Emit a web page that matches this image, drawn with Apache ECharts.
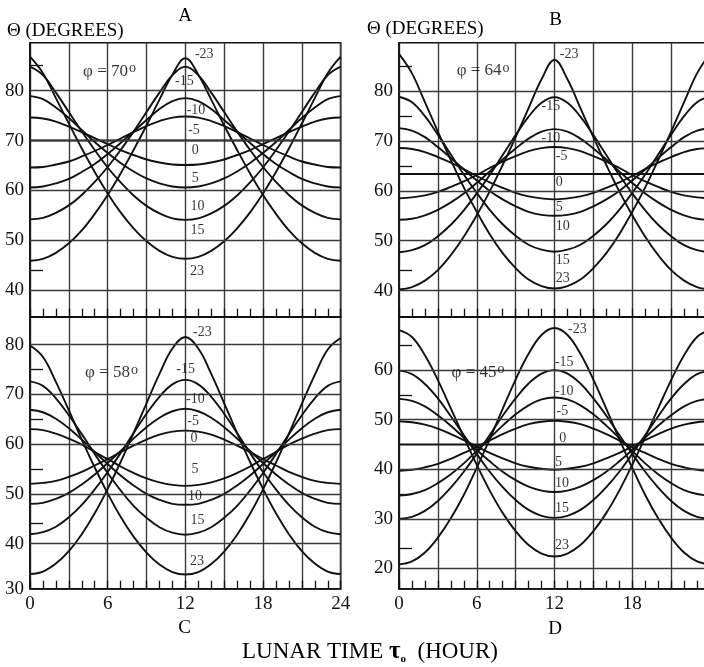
<!DOCTYPE html>
<html>
<head>
<meta charset="utf-8">
<script src="https://cdn.jsdelivr.net/npm/echarts@6/dist/echarts.min.js"></script>
<style>html,body{margin:0;padding:0;background:#fff}#c{width:704px;height:667px}</style>
</head>
<body>
<div id="c"></div>
<script>
// ---------------- DATA ----------------
const hours = [0,1,2,3,4,5,6,7,8,9,10,11,12,13,14,15,16,17,18,19,20,21,22,23,24];

// Panel A  (phi = 70)
const A_23  = [86.8,83.5,78.5,73.4,68.4,63.7,59.4,55.6,52.4,49.8,47.9,46.7,46.3,46.7,47.9,49.8,52.4,55.6,59.4,63.7,68.4,73.4,78.5,83.5,86.8];
const A_15  = [84.8,83.1,79.6,75.7,71.8,68.1,64.6,61.6,59.0,56.9,55.4,54.4,54.1,54.4,55.4,56.9,59.0,61.6,64.6,68.1,71.8,75.7,79.6,83.1,84.8];
const A_10  = [78.9,78.3,76.6,74.5,72.1,69.7,67.5,65.5,63.8,62.4,61.4,60.8,60.6,60.8,61.4,62.4,63.8,65.5,67.5,69.7,72.1,74.5,76.6,78.3,78.9];
const A_5   = [74.6,74.4,73.8,72.8,71.7,70.5,69.3,68.1,67.1,66.2,65.6,65.2,65.1,65.2,65.6,66.2,67.1,68.1,69.3,70.5,71.7,72.8,73.8,74.4,74.6];
const A_0   = [70,70,70,70,70,70,70,70,70,70,70,70,70,70,70,70,70,70,70,70,70,70,70,70,70];
const A_m5  = [64.6,64.7,65.2,65.8,66.8,67.9,69.1,70.4,71.7,72.9,73.9,74.6,74.8,74.6,73.9,72.9,71.7,70.4,69.1,67.9,66.8,65.8,65.2,64.7,64.6];
const A_m10 = [60.6,60.8,61.4,62.3,63.7,65.3,67.3,69.5,71.8,74.1,76.3,77.9,78.5,77.9,76.3,74.1,71.8,69.5,67.3,65.3,63.7,62.3,61.4,60.8,60.6];
const A_m15 = [54.2,54.5,55.5,57.0,59.1,61.7,64.7,68.1,71.8,75.7,79.6,83.1,84.8,83.1,79.6,75.7,71.8,68.1,64.7,61.7,59.1,57.0,55.5,54.5,54.2];
const A_m23 = [45.9,46.3,47.5,49.4,52.0,55.3,59.1,63.4,68.1,73.0,78.2,83.2,86.5,83.2,78.2,73.0,68.1,63.4,59.1,55.3,52.0,49.4,47.5,46.3,45.9];

// Panel B  (phi = 64)
const B_23  = [87.5,83.6,77.8,71.9,66.2,60.7,55.8,51.3,47.5,44.5,42.2,40.9,40.4,40.9,42.2,44.5,47.5,51.3,55.8,60.7,66.2,71.9,77.8,83.6,87.5];
const B_15  = [78.9,77.8,75.0,71.3,67.3,63.3,59.6,56.2,53.3,51.0,49.2,48.2,47.8,48.2,49.2,51.0,53.3,56.2,59.6,63.3,67.3,71.3,75.0,77.8,78.9];
const B_10  = [72.6,72.1,70.8,68.8,66.6,64.3,62.1,60.0,58.3,56.9,55.8,55.2,55.0,55.2,55.8,56.9,58.3,60.0,62.1,64.3,66.6,68.8,70.8,72.1,72.6];
const B_5   = [68.6,68.4,67.8,66.8,65.7,64.4,63.0,61.7,60.6,59.6,58.9,58.5,58.3,58.5,58.9,59.6,60.6,61.7,63.0,64.4,65.7,66.8,67.8,68.4,68.6];
const B_0   = [63.4,63.4,63.4,63.4,63.4,63.4,63.4,63.4,63.4,63.4,63.4,63.4,63.4,63.4,63.4,63.4,63.4,63.4,63.4,63.4,63.4,63.4,63.4,63.4,63.4];
const B_m5  = [58.5,58.7,59.1,59.8,60.8,61.9,63.2,64.6,65.9,67.0,68.0,68.6,68.8,68.6,68.0,67.0,65.9,64.6,63.2,61.9,60.8,59.8,59.1,58.7,58.5];
const B_m10 = [54.2,54.4,55.1,56.2,57.7,59.5,61.6,63.9,66.3,68.5,70.5,71.9,72.4,71.9,70.5,68.5,66.3,63.9,61.6,59.5,57.7,56.2,55.1,54.4,54.2];
const B_m15 = [47.7,48.1,49.1,50.9,53.2,56.1,59.5,63.2,67.2,71.2,74.9,77.7,78.8,77.7,74.9,71.2,67.2,63.2,59.5,56.1,53.2,50.9,49.1,48.1,47.7];
const B_m23 = [40.2,40.7,42.0,44.1,47.1,50.8,55.1,59.9,65.2,70.8,76.6,82.4,86.3,82.4,76.6,70.8,65.2,59.9,55.1,50.8,47.1,44.1,42.0,40.7,40.2];

// Panel C  (phi = 58)
const C_23  = [79.8,77.5,72.5,66.8,60.9,55.3,50.1,45.4,41.4,38.2,35.8,34.3,33.8,34.3,35.9,38.4,41.8,46.0,50.9,56.3,62.1,68.1,73.9,79.0,81.3];
const C_15  = [72.6,71.7,69.2,65.8,62.0,58.0,54.2,50.7,47.6,45.2,43.3,42.2,41.8,42.2,43.3,45.2,47.6,50.7,54.2,58.0,62.0,65.8,69.2,71.7,72.6];
const C_10  = [66.9,66.4,65.1,63.2,60.9,58.4,56.0,53.7,51.7,50.0,48.8,48.0,47.8,48.0,48.8,50.0,51.7,53.7,56.0,58.4,60.9,63.2,65.1,66.4,66.9];
const C_5   = [63.0,62.8,62.1,61.1,59.9,58.4,57.0,55.5,54.2,53.1,52.3,51.8,51.6,51.8,52.3,53.1,54.2,55.5,57.0,58.4,59.9,61.1,62.1,62.8,63.0];
const C_m5  = [52.0,52.2,52.6,53.4,54.4,55.7,57.0,58.4,59.7,60.9,61.9,62.5,62.7,62.5,61.9,60.9,59.7,58.4,57.0,55.7,54.4,53.4,52.6,52.2,52.0];
const C_m10 = [48.0,48.2,49.0,50.2,51.9,53.9,56.2,58.6,61.1,63.4,65.3,66.6,67.1,66.6,65.3,63.4,61.1,58.6,56.2,53.9,51.9,50.2,49.0,48.2,48.0];
const C_m15 = [41.9,42.3,43.4,45.3,47.8,50.9,54.4,58.2,62.2,66.1,69.5,72.0,72.9,72.0,69.5,66.1,62.2,58.2,54.4,50.9,47.8,45.3,43.4,42.3,41.9];
const C_m23 = [33.9,34.4,36.0,38.5,41.9,46.1,51.0,56.4,62.2,68.2,74.1,79.2,81.5,79.2,74.1,68.2,62.2,56.4,51.0,46.1,41.9,38.5,36.0,34.4,33.9];

// Panel D  (phi = 45)
const D_23  = [68.1,66.7,63.0,58.0,52.3,46.5,40.9,35.7,31.2,27.5,24.7,23.0,22.4,23.0,24.7,27.5,31.2,35.7,40.9,46.5,52.3,58.0,63.0,66.7,68.1];
const D_15  = [59.9,59.2,57.2,54.3,50.7,46.9,43.1,39.5,36.4,33.8,31.8,30.6,30.2,30.6,31.8,33.8,36.4,39.5,43.1,46.9,50.7,54.3,57.2,59.2,59.9];
const D_10  = [54.2,53.8,52.7,50.9,48.8,46.4,43.9,41.6,39.5,37.8,36.5,35.7,35.4,35.7,36.5,37.8,39.5,41.6,43.9,46.4,48.8,50.9,52.7,53.8,54.2];
const D_5   = [49.7,49.5,49.0,48.2,47.1,45.9,44.6,43.3,42.2,41.2,40.5,40.1,39.9,40.1,40.5,41.2,42.2,43.3,44.6,45.9,47.1,48.2,49.0,49.5,49.7];
const D_0   = [45,45,45,45,45,45,45,45,45,45,45,45,45,45,45,45,45,45,45,45,45,45,45,45,45];
const D_m5  = [39.7,39.9,40.4,41.1,42.1,43.3,44.5,45.8,47.1,48.2,49.1,49.6,49.8,49.6,49.1,48.2,47.1,45.8,44.5,43.3,42.1,41.1,40.4,39.9,39.7];
const D_m10 = [34.7,35.0,35.8,37.2,39.0,41.2,43.7,46.3,48.8,51.1,52.9,54.1,54.5,54.1,52.9,51.1,48.8,46.3,43.7,41.2,39.0,37.2,35.8,35.0,34.7];
const D_m15 = [30.0,30.4,31.6,33.6,36.3,39.5,43.1,46.9,50.8,54.3,57.3,59.3,60.0,59.3,57.3,54.3,50.8,46.9,43.1,39.5,36.3,33.6,31.6,30.4,30.0];
const D_m23 = [20.8,21.4,23.2,26.2,30.1,34.8,40.3,46.1,52.2,58.1,63.3,67.1,68.5,67.1,63.3,58.1,52.2,46.1,40.3,34.8,30.1,26.2,23.2,21.4,20.8];

// Axis ticks / labels
const xTickLabels = [0, 6, 12, 18, 24];
const A_yLabels = [40, 50, 60, 70, 80];
const B_yLabels = [40, 50, 60, 70, 80];
const C_yLabels = [30, 40, 50, 60, 70, 80];
const D_yLabels = [20, 30, 40, 50, 60];
const A_yMinor = [85, 44];
const B_yMinor = [85, 75, 65, 44];
const C_yMinor = [75, 65, 55, 44];
const D_yMinor = [65, 55, 35, 24];

// Curve labels (declination, degrees): [text, hour, value]
const A_curveLabels = [['-23',12.74,87.3],['-15',11.2,81.8],['-10',12.1,76.1],['-5',12.22,72.1],['0',12.5,68.1],['5',12.5,62.4],['10',12.4,56.9],['15',12.4,52.1],['23',12.36,43.7]];
const B_curveLabels = [['-23',12.41,87.4],['-15',11.0,76.9],['-10',11.0,70.6],['-5',12.1,66.9],['0',12.1,61.8],['5',12.1,56.8],['10',12.1,52.8],['15',12.1,46.1],['23',12.1,42.4]];
const C_curveLabels = [['-23',12.6,82.4],['-15',11.3,75.0],['-10',12.05,68.9],['-5',12.15,64.6],['0',12.4,61.2],['5',12.48,54.9],['10',12.2,49.6],['15',12.4,44.6],['23',12.35,36.4]];
const D_curveLabels = [['-23',13.05,68.2],['-15',12.03,61.5],['-10',12.03,55.7],['-5',12.16,51.6],['0',12.36,46.3],['5',12.03,41.5],['10',12.03,37.2],['15',12.03,32.1],['23',12.03,24.7]];

// Latitude labels: [latitude, hour, value]
const A_phi = [70, 4.1, 83.9];
const B_phi = [64, 4.45, 84.1];
const C_phi = [58, 4.25, 74.3];
const D_phi = [45, 4.06, 59.5];

// ---------------- LAYOUT ----------------
const FONT = '"Liberation Serif","Times New Roman",serif';
const INK = '#111';
const GRIDC = '#3a3a3a';

const panels = [
  { grid:{left:30,  top:42.7,  width:310.7, height:274},   yr:[34.7,89.6],  ylab:A_yLabels, ymin:A_yMinor, xlab:false,
    curves:[A_23,A_15,A_10,A_5,A_0,A_m5,A_m10,A_m15,A_m23], cl:A_curveLabels, phi:A_phi },
  { grid:{left:399, top:42.7,  width:311,   height:274},   yr:[34.75,89.75], ylab:B_yLabels, ymin:B_yMinor, xlab:false,
    curves:[B_23,B_15,B_10,B_5,B_0,B_m5,B_m10,B_m15,B_m23], cl:B_curveLabels, phi:B_phi },
  { grid:{left:30,  top:317.3, width:310.7, height:271.4}, yr:[30.95,85.47], ylab:C_yLabels, ymin:C_yMinor, xlab:true,
    curves:[C_23,C_15,C_10,C_5,C_m5,C_m10,C_m15,C_m23], cl:C_curveLabels, phi:C_phi },
  { grid:{left:399, top:317.3, width:311,   height:271.4}, yr:[15.9,70.67], ylab:D_yLabels, ymin:D_yMinor, xlab:true, hide24:true,
    curves:[D_23,D_15,D_10,D_5,D_0,D_m5,D_m10,D_m15,D_m23], cl:D_curveLabels, phi:D_phi }
];

const grid = [], xAxis = [], yAxis = [], series = [];
panels.forEach((p, i) => {
  grid.push(Object.assign({show:true, borderColor:INK, borderWidth:1.6, backgroundColor:'transparent',
    containLabel:false, outerBoundsMode:'none'}, p.grid));
  xAxis.push({
    type:'value', gridIndex:i, min:0, max:24, interval:3,
    axisLine:{show:true, lineStyle:{color:INK, width:1.6}},
    axisTick:{show:true, inside:true, length:8, lineStyle:{color:INK, width:1.3}},
    minorTick:{show:true, splitNumber:3, length:8, lineStyle:{color:INK, width:1.3}},
    splitLine:{show:true, lineStyle:{color:GRIDC, width:1.4}},
    axisLabel:{show:p.xlab, margin:6, color:INK, fontFamily:FONT, fontSize:19,
      formatter:v => (xTickLabels.indexOf(v) >= 0 && !(p.hide24 && v === 24)) ? String(v) : ''}
  });
  const lowLabel = p.ylab[0] < p.yr[0];
  const labVals = p.ylab.map(v => (v < p.yr[0] ? p.yr[0] : v));
  yAxis.push({
    type:'value', gridIndex:i, min:p.yr[0], max:p.yr[1],
    axisLine:{show:true, lineStyle:{color:INK, width:1.6}},
    axisTick:{show:true, inside:true, length:13, customValues:p.ymin, lineStyle:{color:INK, width:1.3}},
    splitLine:{show:false},
    axisLabel:{show:true, margin:6, color:INK, fontFamily:FONT, fontSize:19, customValues:labVals,
      formatter:v => (lowLabel && v === p.yr[0]) ? String(p.ylab[0]) : String(Math.round(v))}
  });
  // horizontal grid lines
  series.push({
    type:'line', xAxisIndex:i, yAxisIndex:i, data:[], silent:true, animation:false,
    markLine:{silent:true, symbol:['none','none'], animation:false, label:{show:false},
      lineStyle:{color:GRIDC, width:1.4, type:'solid'},
      data:p.ylab.filter(v => v > p.yr[0]).map(v => ({yAxis:v}))}
  });
  p.curves.forEach(c => {
    series.push({
      type:'line', xAxisIndex:i, yAxisIndex:i, smooth:0.4, symbol:'none', silent:true, animation:false, z:3,
      lineStyle:{color:INK, width:1.9}, data:hours.map((h, k) => [h, c[k]])
    });
  });
  series.push({
    type:'scatter', xAxisIndex:i, yAxisIndex:i, symbol:'circle', symbolSize:0, silent:true, animation:false, z:5,
    itemStyle:{color:'#000'},
    label:{show:true, position:'right', distance:0, align:'left', verticalAlign:'middle', color:'#000',
      textBorderWidth:0, fontFamily:FONT, fontSize:14, formatter:q => q.name},
    data:p.cl.map(l => ({name:l[0], value:[l[1], l[2]]}))
  });
  series.push({
    type:'scatter', xAxisIndex:i, yAxisIndex:i, symbol:'circle', symbolSize:0, silent:true, animation:false, z:5,
    itemStyle:{color:'#000'},
    label:{show:true, position:'right', distance:0, align:'left', verticalAlign:'middle', color:'#000', textBorderWidth:0,
      formatter:q => '{m|φ = ' + q.name + '}{s|o}',
      rich:{m:{fontSize:17, fontFamily:FONT, color:'#000', lineHeight:20},
            s:{fontSize:14, fontFamily:FONT, color:'#000', verticalAlign:'top', lineHeight:11, padding:[0,0,0,1]}}},
    data:[{name:String(p.phi[0]), value:[p.phi[1], p.phi[2]]}]
  });
});

function txt(t, x, y, size, align) {
  return {type:'text', x:x, y:y, silent:true,
    style:{text:t, font:size + 'px ' + FONT, fill:'#000', align:align, verticalAlign:'middle',
           textAlign:align, textVerticalAlign:'middle'}};
}

const graphic = [
  txt('Θ (DEGREES)', 7, 31, 19, 'left'),
  txt('Θ (DEGREES)', 367, 29.5, 19, 'left'),
  txt('A', 185, 16, 19, 'center'),
  txt('B', 555.5, 20, 19, 'center'),
  txt('C', 184.5, 628, 19, 'center'),
  txt('D', 555, 629, 19, 'center'),
  {type:'text', x:370, y:652, silent:true,
   style:{text:'LUNAR TIME {t|τ}{o|o}  (HOUR)', font:'23px ' + FONT, fill:'#000',
          align:'center', verticalAlign:'middle', textAlign:'center', textVerticalAlign:'middle',
          rich:{t:{font:'bold 25px ' + FONT, fill:'#000'}, o:{font:'bold 11px ' + FONT, fill:'#000', verticalAlign:'bottom'}}}}
];

const chart = echarts.init(document.getElementById('c'), null, {renderer:'canvas', width:704, height:667});
chart.setOption({
  animation:false,
  backgroundColor:'#ffffff',
  grid:grid, xAxis:xAxis, yAxis:yAxis, series:series, graphic:graphic
});
</script>
</body>
</html>
